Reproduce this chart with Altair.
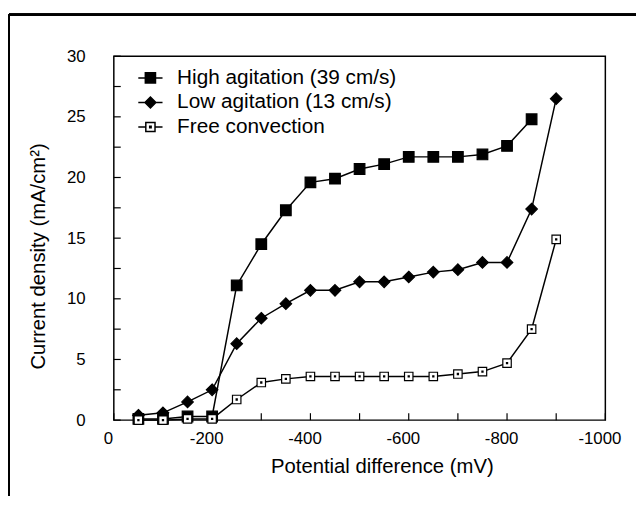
import altair as alt
import pandas as pd

potential = [-50, -100, -150, -200, -250, -300, -350, -400, -450, -500,
             -550, -600, -650, -700, -750, -800, -850, -900]
high = [0.1, 0.1, 0.3, 0.3, 11.1, 14.5, 17.3, 19.6, 19.9, 20.7,
        21.1, 21.7, 21.7, 21.7, 21.9, 22.6, 24.8, None]
low = [0.4, 0.6, 1.5, 2.5, 6.3, 8.4, 9.6, 10.7, 10.7, 11.4,
       11.4, 11.8, 12.2, 12.4, 13.0, 13.0, 17.4, 26.5]
free = [0.0, 0.0, 0.1, 0.1, 1.7, 3.1, 3.4, 3.6, 3.6, 3.6,
        3.6, 3.6, 3.6, 3.8, 4.0, 4.7, 7.5, 14.9]
series_names = ["High agitation (39 cm/s)", "Low agitation (13 cm/s)", "Free convection"]
x_ticks = [-100 * i for i in range(11)]
y_ticks = [2.5 * i for i in range(13)]

rows = []
for name, vals in zip(series_names, [high, low, free]):
    for p, v in zip(potential, vals):
        if v is not None:
            rows.append({"potential": p, "density": v, "series": name})
df = pd.DataFrame(rows)

W, H = 497, 368
FONT = "Liberation Sans"

# marker paths (unit box)
sq = "M-1,-1H1V1H-1Z"
dia = "M0,-1.15L1.15,0L0,1.15L-1.15,0Z"
sqdot = "M-0.9,-0.9H0.9V0.9H-0.9Z M-0.12,-0.12H0.12V0.12H-0.12Z"

# legend paths (line through marker)
lsq = "M-1,0H1 M-0.42,-0.42H0.42V0.42H-0.42Z"
ldia = "M-1,0H1 M0,-0.45L0.45,0L0,0.45L-0.45,0Z"
lsqdot = "M-1,0H-0.38 M0.38,0H1 M-0.38,-0.38H0.38V0.38H-0.38Z M-0.06,-0.06H0.06V0.06H-0.06Z"

xscale = alt.Scale(domain=[-1000, 0], reverse=True, nice=False)
yscale = alt.Scale(domain=[0, 30], nice=False)

xaxis = alt.Axis(values=[-200 * i for i in range(6)],
                 labelExpr="datum.value == 0 ? '0' : '-' + format(-datum.value, 'd')",
                 tickSize=0, domain=False, grid=False, labelPadding=11, labelFlush=False,
                 labelOffset=-6, title="Potential difference (mV)", titlePadding=10, titleX=271)
yaxis = alt.Axis(values=[0, 5, 10, 15, 20, 25, 30], tickSize=0, domain=False, grid=False,
                 labelPadding=29, labelFlush=False, title="Current density (mA/cm²)",
                 titlePadding=18, titleY=202)

base = alt.Chart(df)

lines = base.mark_line(color="black", strokeWidth=1.5).encode(
    x=alt.X("potential:Q", scale=xscale, axis=xaxis),
    y=alt.Y("density:Q", scale=yscale, axis=yaxis),
    detail="series:N",
)

points = base.mark_point(filled=True, opacity=1, strokeWidth=1.2, stroke="black").encode(
    x=alt.X("potential:Q", scale=xscale),
    y=alt.Y("density:Q", scale=yscale),
    shape=alt.Shape("series:N", scale=alt.Scale(domain=series_names, range=[sq, dia, sqdot]), legend=None),
    fill=alt.Fill("series:N", scale=alt.Scale(domain=series_names, range=["black", "black", "white"]), legend=None),
    size=alt.Size("series:N", scale=alt.Scale(domain=series_names, range=[115, 90, 105]), legend=None),
)

legend = alt.Legend(
    title=None, orient="none", legendX=24, legendY=9,
    symbolSize=600, labelFontSize=21, labelFont=FONT, labelColor="black",
    rowPadding=1.8, labelOffset=14, symbolStrokeWidth=1.5,
    symbolOpacity=1, labelLimit=400,
)
legend_layer = base.transform_filter("false").mark_point(filled=False, opacity=1, strokeWidth=1.5).encode(
    x=alt.X("potential:Q", scale=xscale),
    y=alt.Y("density:Q", scale=yscale),
    shape=alt.Shape("series:N", scale=alt.Scale(domain=series_names, range=[lsq, ldia, lsqdot]), legend=legend),
    fill=alt.Fill("series:N", scale=alt.Scale(domain=series_names, range=["black", "black", "white"]), legend=legend),
    stroke=alt.Stroke("series:N", scale=alt.Scale(domain=series_names, range=["black", "black", "black"]), legend=legend),
)

xt = pd.DataFrame({"t": x_ticks})
yt = pd.DataFrame({"t": y_ticks})
xtick_marks = alt.Chart(xt).mark_rule(color="black", strokeWidth=1.2).encode(
    x=alt.X("t:Q", scale=xscale), y=alt.value(H), y2=alt.value(H - 7))
ytick_marks = alt.Chart(yt).mark_rule(color="black", strokeWidth=1.2).encode(
    y=alt.Y("t:Q", scale=yscale), x=alt.value(0), x2=alt.value(7))

frame_top = alt.Chart(xt).mark_rule(color="black", strokeWidth=2).encode(
    x=alt.value(-106), x2=alt.value(540), y=alt.value(-42))
frame_left = alt.Chart(xt).mark_rule(color="black", strokeWidth=2).encode(
    x=alt.value(-106), y=alt.value(-42), y2=alt.value(460))

chart = alt.layer(frame_top, frame_left, lines, xtick_marks, ytick_marks, points, legend_layer).resolve_scale(
    shape="independent", fill="independent", size="independent", stroke="independent"
).properties(
    width=W, height=H,
    autosize=alt.AutoSizeParams(type="none"),
    padding={"left": 107, "top": 46, "right": 31, "bottom": 74},
).configure(background="white").configure_view(stroke="black", strokeWidth=1.5).configure_axis(
    labelFont=FONT, labelFontSize=17, labelColor="black",
    titleFont=FONT, titleFontSize=20.5, titleFontWeight="normal", titleColor="black",
)

chart.save("out.html", embed_options={"renderer": "svg", "actions": False})
